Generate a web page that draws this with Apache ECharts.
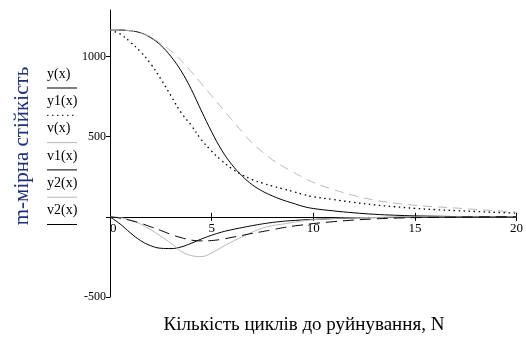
<!DOCTYPE html>
<html><head><meta charset="utf-8">
<script src="https://cdn.jsdelivr.net/npm/echarts@6/dist/echarts.min.js"></script>
<style>html,body{margin:0;padding:0;background:#fff}#c{width:526px;height:340px}</style>
</head><body><div id="c"></div>
<script>
var xs = [0,0.5,1,1.5,2,2.5,3,3.5,4,4.5,5,5.5,6,6.5,7,7.5,8,8.5,9,9.5,10,11,12,13,14,15,16,17,18,19,20];
var seriesNames = ['y(x)','y1(x)','v(x)','v1(x)','y2(x)','v2(x)'];
var yVals  = [1165,1165,1160,1148,1118,1070,1000,910,795,660,530,415,325,255,200,160,130,105,85,65,52,37,25,16,10,6,4,2,1,1,0];
var y1Vals = [1165,1140,1090,1030,955,860,755,650,570,480,410,350,300,262,232,210,192,175,158,140,125,108,90,75,63,53,45,39,33,28,23];
var vVals  = [1165,1165,1160,1145,1120,1080,1035,975,905,830,755,680,605,530,460,405,355,315,280,245,215,170,133,105,85,72,63,55,46,38,30];
var v1Vals = [0,-45,-100,-148,-180,-196,-198,-188,-165,-138,-115,-95,-80,-67,-55,-44,-35,-28,-23,-19,-16,-11,-7,-5,-3,-2,-1,-1,0,0,0];
var y2Vals = [0,-5,-20,-45,-80,-120,-165,-215,-242,-248,-225,-190,-155,-125,-95,-70,-55,-45,-35,-25,-18,-10,-6,-4,-2,-1,0,0,0,0,0];
var v2Vals = [0,-8,-22,-40,-62,-85,-110,-130,-145,-150,-148,-140,-128,-116,-103,-92,-80,-68,-58,-50,-42,-30,-20,-13,-8,-5,-3,-2,-1,0,0];
var xTicks = [0,5,10,15,20];
var yTicks = [-500,500,1000];
var yMin = -500, yMax = 1290;

function pairs(v){ return xs.map(function(x,i){ return [x, v[i]]; }); }
var dark = '#000', light = '#b8b8b8';
var styles = [
  {color: dark, type: 'solid'},
  {color: dark, type: [1.5,3.5]},
  {color: light, type: [9,6]},
  {color: dark, type: 'solid'},
  {color: light, type: 'solid'},
  {color: dark, type: [11,6]}
];
var allVals = [yVals,y1Vals,vVals,v1Vals,y2Vals,v2Vals];
var series = allVals.map(function(v,i){
  return {name: seriesNames[i], type:'line', data: pairs(v), smooth: 0.4, symbol:'none',
    lineStyle:{color: styles[i].color, type: styles[i].type, width: (i===1?1.3:1)}, z: 3, silent:true};
});

var font = 'Liberation Serif, Times New Roman, serif';
var gridTop = 10, gridBottom = 43, H = 340;
var plotH = H - gridTop - gridBottom;
var zeroOffset = -(0 - yMin) / (yMax - yMin) * plotH;

var legendGraphic = [];
var legendSample = [
  {color: dark, dash: null},
  {color: dark, dash: [1.5,3.5]},
  {color: light, dash: null},
  {color: dark, dash: null},
  {color: light, dash: null},
  {color: dark, dash: null}
];
seriesNames.forEach(function(n,i){
  var top = 67 + i*27.3;
  legendGraphic.push({type:'text', x: 47, y: top, style:{text:n, font:'14px '+font, fill:'#000'}});
  legendGraphic.push({type:'line', shape:{x1:47,y1:top+21,x2:77,y2:top+21},
    style:{stroke: legendSample[i].color, lineWidth:1, lineDash: legendSample[i].dash}});
});
legendGraphic.push({type:'text', x:22, y:146, rotation: Math.PI/2,
  style:{text:'m-мірна стійкість', font:'21px '+font, fill:'#1f2f7a', align:'center', verticalAlign:'middle'}});
legendGraphic.push({type:'text', x:304, y:325,
  style:{text:'Кількість циклів до руйнування, N', font:'19px '+font, fill:'#000', align:'center', verticalAlign:'middle'}});

var chart = echarts.init(document.getElementById('c'), null, {renderer:'canvas'});
chart.setOption({
  animation:false,
  backgroundColor:'#fff',
  grid:{left:110, right:7, top:gridTop, bottom:gridBottom},
  xAxis:[{type:'value', min:0, max:20, interval:5, offset: zeroOffset,
    axisLine:{onZero:false, lineStyle:{color:'#000', width:1}},
    axisTick:{show:true, length:4, lineStyle:{color:'#000'}},
    axisLabel:{color:'#000', fontFamily:font, fontSize:13, margin:5, alignMinLabel:'left',
      formatter:function(v){ return xTicks.indexOf(v)>=0 ? String(v) : ''; }},
    splitLine:{show:false}
  },{type:'value', min:0, max:20, interval:5, position:'bottom', offset: zeroOffset,
    axisLine:{onZero:false, show:false},
    axisTick:{show:true, inside:true, length:4, lineStyle:{color:'#000'}},
    axisLabel:{show:false}, splitLine:{show:false}
  }],
  yAxis:{type:'value', min:yMin, max:yMax, interval:500,
    axisLine:{show:true, onZero:false, lineStyle:{color:'#000', width:1}},
    axisTick:{show:true, length:4, lineStyle:{color:'#000'}},
    axisLabel:{color:'#000', fontFamily:font, fontSize:12, margin:4, showMaxLabel:false,
      formatter:function(v){ return yTicks.indexOf(v)>=0 ? String(v) : ''; }},
    splitLine:{show:false}
  },
  series: series,
  graphic: legendGraphic
});
</script></body></html>
